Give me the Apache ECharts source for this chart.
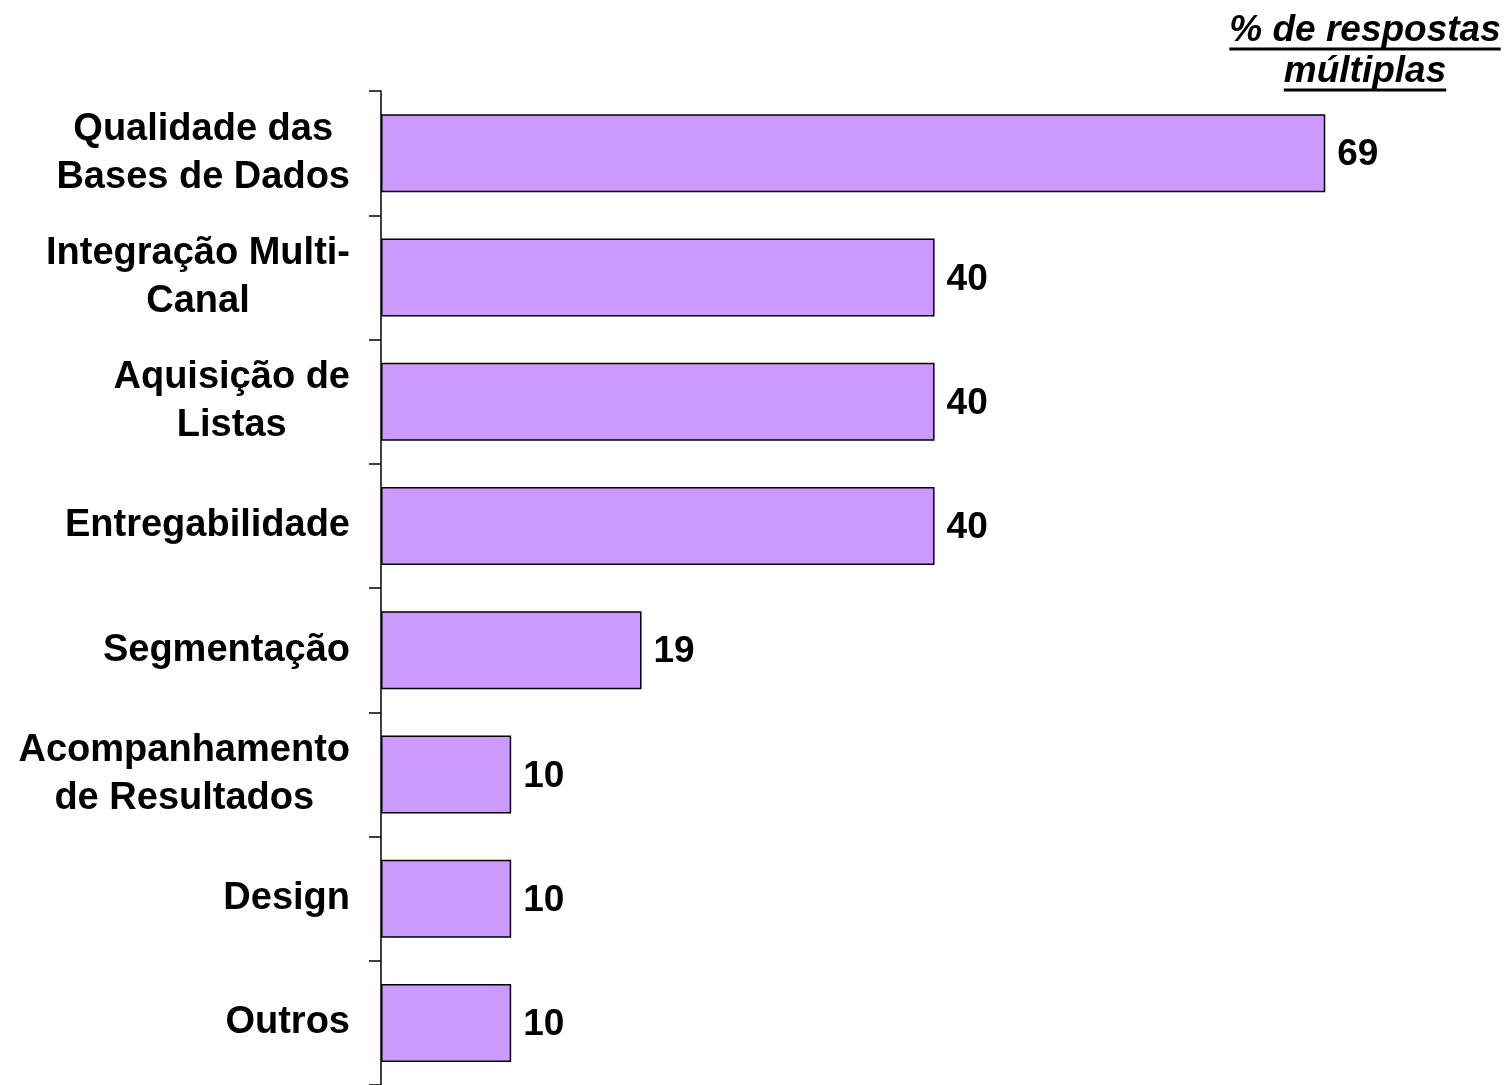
<!DOCTYPE html>
<html>
<head>
<meta charset="utf-8">
<script src="https://cdn.jsdelivr.net/npm/echarts@6/dist/echarts.min.js"></script>
<style>
    html, body { margin: 0; padding: 0; background: #fff; }
    #chart { width: 1509px; height: 1085px; }
</style>
</head>
<body>
<div id="chart"></div>
<script>
// categories top to bottom
const categories = [
    'Qualidade das\nBases de Dados',
    'Integração Multi-\nCanal',
    'Aquisição de\nListas',
    'Entregabilidade',
    'Segmentação',
    'Acompanhamento\nde Resultados',
    'Design',
    'Outros'
]
// % of 42 respondents, shown rounded
const values = [69.05, 40.48, 40.48, 40.48, 19.05, 9.52, 9.52, 9.52]
const titleLines = ['% de respostas', 'múltiplas']

const font = '"Liberation Sans", Arial, sans-serif'

const measure = (text, size) => {
    const ctx = document.createElement('canvas').getContext('2d')
    ctx.font = 'italic bold ' + size + 'px "Liberation Sans", Arial, sans-serif'
    return ctx.measureText(text).width
}

const titleX = 1365
const titleY = [31, 72]
const titleGraphics = []
titleLines.forEach((t, i) => {
    const w = measure(t, 37)
    titleGraphics.push({
        type: 'text',
        style: {
            text: t,
            x: titleX,
            y: titleY[i],
            align: 'center',
            verticalAlign: 'middle',
            font: 'italic bold 37px ' + font,
            fill: '#000'
        }
    })
    titleGraphics.push({
        type: 'line',
        shape: { x1: titleX - w / 2, y1: titleY[i] + 18, x2: titleX + w / 2, y2: titleY[i] + 18 },
        style: { stroke: '#000', lineWidth: 3 }
    })
})

const chart = echarts.init(document.getElementById('chart'))
const option = {
    animation: false,
    backgroundColor: '#fff',
    graphic: titleGraphics,
    grid: {
        left: 381,
        top: 91,
        width: 1094,
        height: 995
    },
    xAxis: {
        type: 'value',
        min: 0,
        max: 80,
        show: false
    },
    yAxis: {
        type: 'category',
        inverse: true,
        data: categories,
        axisLine: { show: true, lineStyle: { color: '#000', width: 1.5 } },
        axisTick: { show: true, length: 12, lineStyle: { color: '#000', width: 1.5 } },
        axisLabel: {
            margin: 31,
            align: 'right',
            lineHeight: 48,
            formatter: v => v.split('\n').map(s => '{c|' + s + '}').join('\n'),
            rich: {
                c: {
                    align: 'center',
                    fontFamily: font,
                    fontWeight: 'bold',
                    fontSize: 38,
                    lineHeight: 48,
                    color: '#000'
                }
            }
        },
        splitLine: { show: false }
    },
    series: [{
        type: 'bar',
        data: values,
        barWidth: 78,
        itemStyle: {
            color: '#CC99FF',
            borderColor: '#000',
            borderWidth: 1.5
        },
        label: {
            show: true,
            position: 'right',
            distance: 12,
            offset: [0, 2],
            formatter: p => Math.round(p.value),
            fontFamily: font,
            fontWeight: 'bold',
            fontSize: 37,
            color: '#000'
        }
    }]
}
chart.setOption(option)
</script>
</body>
</html>
